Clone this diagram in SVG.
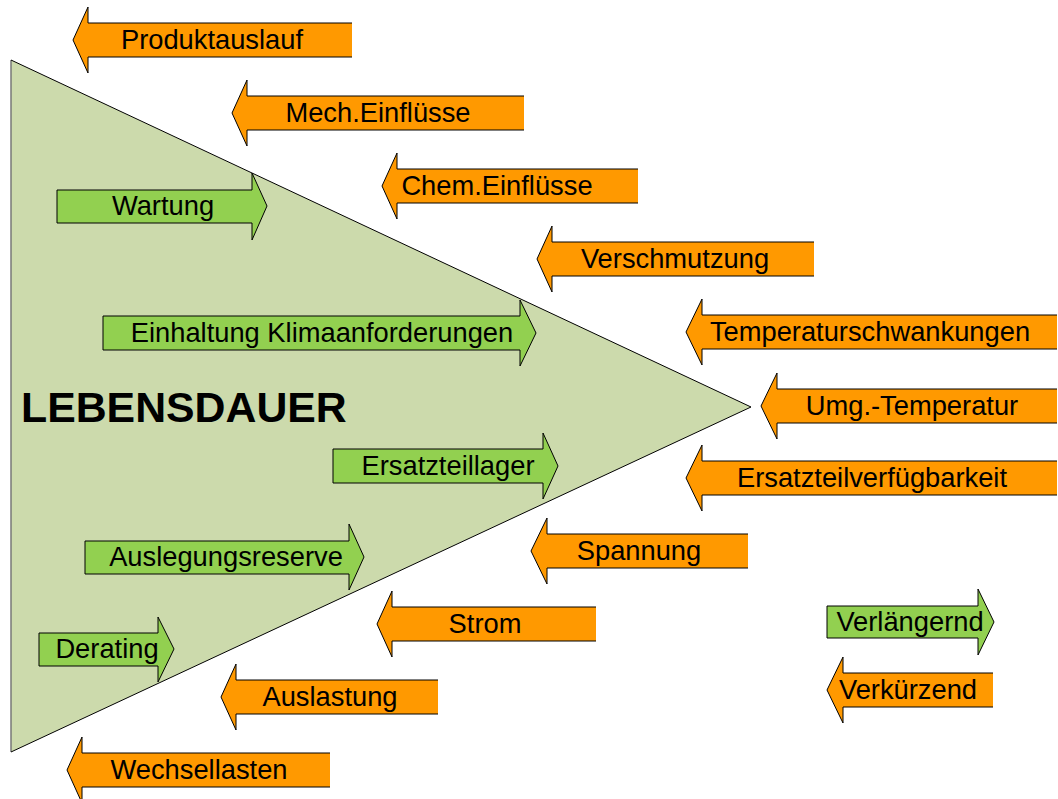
<svg xmlns="http://www.w3.org/2000/svg" width="1058" height="799" viewBox="0 0 1058 799">
<style>
.o{fill:#ff9900;stroke:#000;stroke-width:1}
.g{fill:#92d050;stroke:#000;stroke-width:1}
.t{font-family:"Liberation Sans",Arial,sans-serif;font-size:27.3px;fill:#000;text-anchor:middle}
.big{font-family:"Liberation Sans",Arial,sans-serif;font-size:42.8px;font-weight:bold;fill:#000}
</style>
<rect width="1058" height="799" fill="#fff"/>
<g id="triangle">
<path d="M11,60 L751,407 L11,752 Z" fill="#ccdaac" stroke="none"/>
<path d="M11,752 L11,60" fill="none" stroke="#777" stroke-width="1.5"/>
<path d="M11,60 L751,407 L11,752" fill="none" stroke="#000" stroke-width="1"/>
<text class="big" x="21" y="422">LEBENSDAUER</text>
</g>
<g id="produktauslauf"><path class="o" d="M352,23 L88,23 L88,7 L73,40 L88,73 L88,57 L352,57"/><text class="t" x="212" y="49">Produktauslauf</text></g>
<g id="mech"><path class="o" d="M524,96 L247,96 L247,80 L232,113 L247,146 L247,130 L524,130"/><text class="t" x="378" y="122">Mech.Einflüsse</text></g>
<g id="chem"><path class="o" d="M638,169 L397,169 L397,153 L382,186 L397,219 L397,203 L638,203"/><text class="t" x="497" y="195">Chem.Einflüsse</text></g>
<g id="verschmutzung"><path class="o" d="M814,242 L552,242 L552,226 L537,259 L552,292 L552,276 L814,276"/><text class="t" x="675" y="268">Verschmutzung</text></g>
<g id="temperaturschwankungen"><path class="o" d="M1057,315 L702,315 L702,299 L686,332 L702,365 L702,349 L1057,349"/><text class="t" x="870" y="341">Temperaturschwankungen</text></g>
<g id="umgtemperatur"><path class="o" d="M1057,389 L777,389 L777,373 L761,406 L777,439 L777,423 L1057,423"/><text class="t" x="912" y="415">Umg.-Temperatur</text></g>
<g id="ersatzteilverfuegbarkeit"><path class="o" d="M1057,461 L702,461 L702,445 L686,478 L702,511 L702,495 L1057,495"/><text class="t" x="872" y="487">Ersatzteilverfügbarkeit</text></g>
<g id="spannung"><path class="o" d="M748,534 L547,534 L547,518 L531,551 L547,584 L547,568 L748,568"/><text class="t" x="639" y="560">Spannung</text></g>
<g id="strom"><path class="o" d="M596,607 L392,607 L392,591 L377,624 L392,657 L392,641 L596,641"/><text class="t" x="485" y="633">Strom</text></g>
<g id="auslastung"><path class="o" d="M438,680 L236,680 L236,664 L221,697 L236,730 L236,714 L438,714"/><text class="t" x="330" y="706">Auslastung</text></g>
<g id="wechsellasten"><path class="o" d="M330,753 L82,753 L82,737 L67,770 L82,803 L82,787 L330,787"/><text class="t" x="199" y="779">Wechsellasten</text></g>
<g id="verkuerzend"><path class="o" d="M993,673 L843,673 L843,657 L827,690 L843,723 L843,707 L993,707"/><text class="t" x="908" y="699">Verkürzend</text></g>
<g id="wartung"><path class="g" d="M57,190 L252,190 L252,173 L267,206 L252,240 L252,223 L57,223 Z"/><text class="t" x="163" y="215">Wartung</text></g>
<g id="einhaltung"><path class="g" d="M103,316 L520,316 L520,300 L536,333 L520,366 L520,350 L103,350 Z"/><text class="t" x="322" y="342">Einhaltung Klimaanforderungen</text></g>
<g id="ersatzteillager"><path class="g" d="M333,449 L543,449 L543,433 L558,466 L543,499 L543,483 L333,483 Z"/><text class="t" x="448" y="475">Ersatzteillager</text></g>
<g id="auslegungsreserve"><path class="g" d="M85,541 L349,541 L349,524 L364,557 L349,590 L349,574 L85,574 Z"/><text class="t" x="226" y="566">Auslegungsreserve</text></g>
<g id="derating"><path class="g" d="M39,633 L158,633 L158,617 L174,649 L158,682 L158,666 L39,666 Z"/><text class="t" x="107" y="658">Derating</text></g>
<g id="verlaengernd"><path class="g" d="M827,606 L978,606 L978,589 L994,622 L978,655 L978,638 L827,638 Z"/><text class="t" x="910" y="631">Verlängernd</text></g>
</svg>
